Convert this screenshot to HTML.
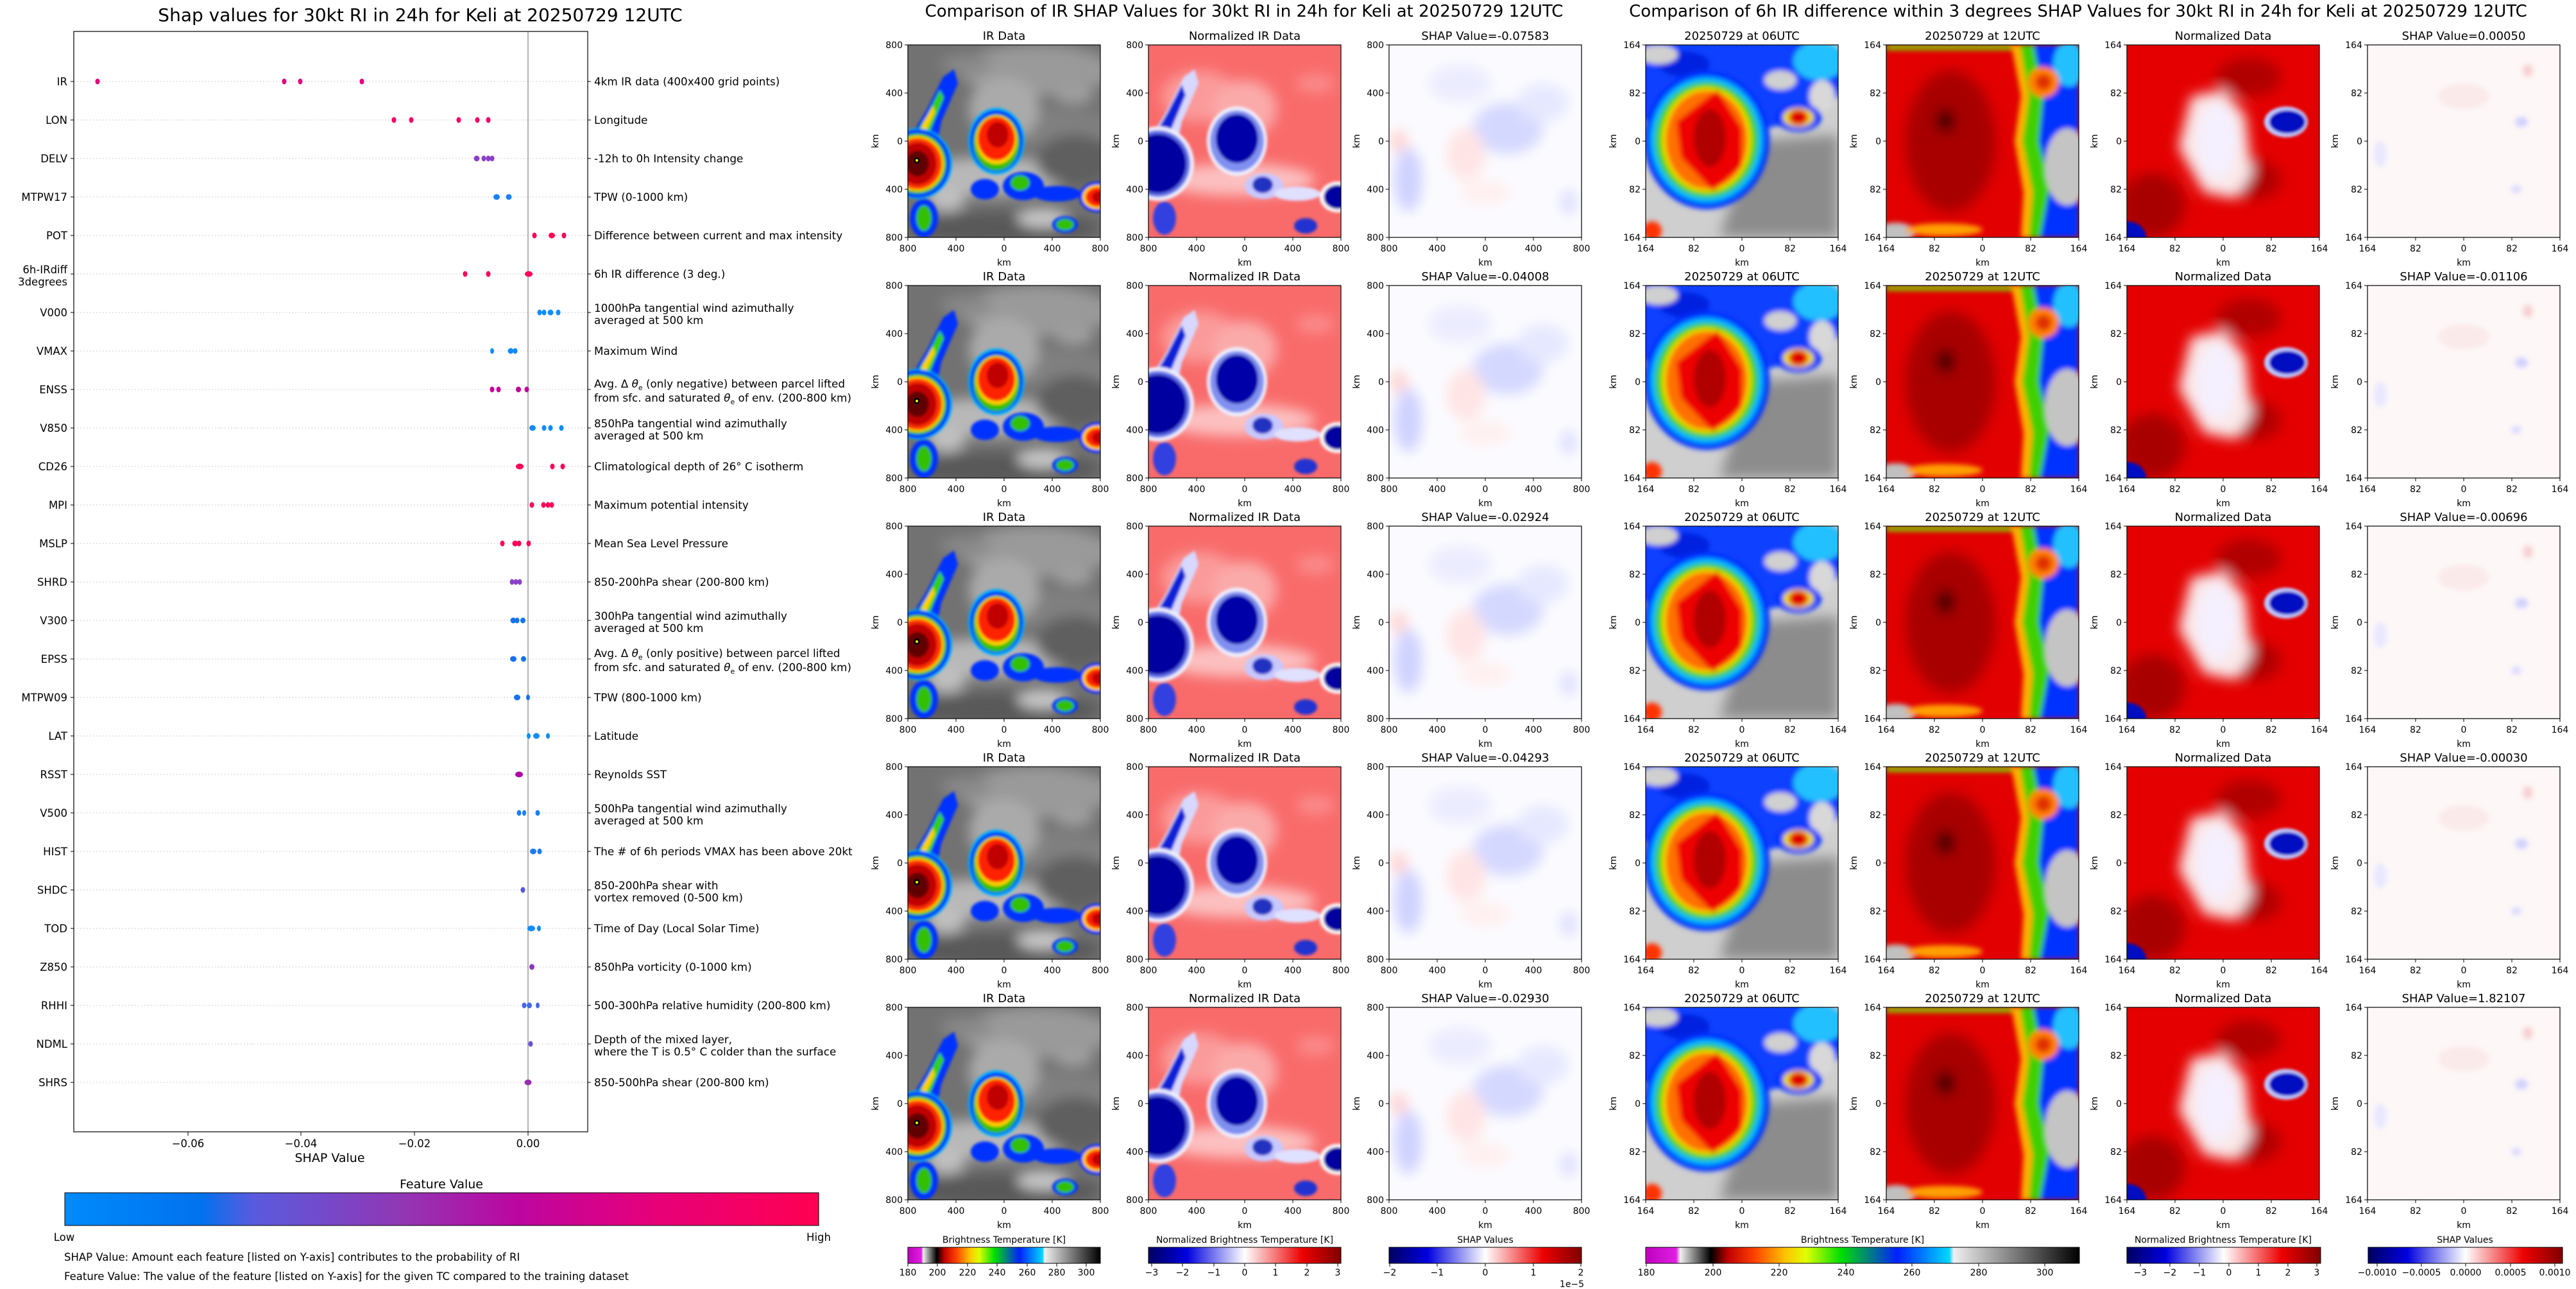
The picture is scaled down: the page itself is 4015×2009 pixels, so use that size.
<!DOCTYPE html>
<html><head><meta charset="utf-8"><style>
html,body{margin:0;padding:0;background:#fff;}
svg{display:block;font-family:"DejaVu Sans","Liberation Sans",sans-serif;}
</style></head><body>
<svg width="4015" height="2009" viewBox="0 0 4015 2009" xmlns="http://www.w3.org/2000/svg">
<defs>
<filter id="b2" x="-20%" y="-20%" width="140%" height="140%"><feGaussianBlur stdDeviation="2"/></filter>
<filter id="b4" x="-30%" y="-30%" width="160%" height="160%"><feGaussianBlur stdDeviation="4"/></filter>
<filter id="b10" x="-50%" y="-50%" width="200%" height="200%"><feGaussianBlur stdDeviation="10"/></filter>
<filter id="b18" x="-50%" y="-50%" width="200%" height="200%"><feGaussianBlur stdDeviation="18"/></filter>
<clipPath id="cp"><rect x="0" y="0" width="300" height="300"/></clipPath>
<linearGradient id="gFeat" x1="0" x2="1" y1="0" y2="0">
<stop offset="0" stop-color="#008bfb"/><stop offset="0.18" stop-color="#0072ee"/><stop offset="0.25" stop-color="#5a5ade"/><stop offset="0.45" stop-color="#9236b4"/><stop offset="0.6" stop-color="#bc06a0"/><stop offset="0.78" stop-color="#e6007a"/><stop offset="1" stop-color="#ff0052"/></linearGradient>
<linearGradient id="gIR1" x1="0" x2="1" y1="0" y2="0">
<stop offset="0" stop-color="#c000c0"/><stop offset="0.07" stop-color="#e020e0"/><stop offset="0.08" stop-color="#f0f0f0"/><stop offset="0.15" stop-color="#000"/><stop offset="0.19" stop-color="#c00000"/><stop offset="0.25" stop-color="#ff4000"/><stop offset="0.32" stop-color="#ffc000"/><stop offset="0.37" stop-color="#e0ff00"/><stop offset="0.45" stop-color="#00e000"/><stop offset="0.58" stop-color="#0020ff"/><stop offset="0.7" stop-color="#00d8ff"/><stop offset="0.71" stop-color="#f0f0f0"/><stop offset="1" stop-color="#000"/></linearGradient>
<linearGradient id="gRWB" x1="0" x2="1" y1="0" y2="0">
<stop offset="0" stop-color="#000060"/><stop offset="0.2" stop-color="#0000e0"/><stop offset="0.5" stop-color="#ffffff"/><stop offset="0.8" stop-color="#ee0000"/><stop offset="1" stop-color="#800000"/></linearGradient>

<g id="irImg"><g clip-path="url(#cp)">
<rect width="300" height="300" fill="#727272"/>
<g filter="url(#b10)">
<ellipse cx="200" cy="40" rx="120" ry="40" fill="#9a9a9a"/><ellipse cx="230" cy="130" rx="90" ry="30" fill="#808080"/>
<ellipse cx="130" cy="205" rx="130" ry="30" fill="#b8b8b8"/><ellipse cx="150" cy="285" rx="150" ry="25" fill="#585858"/>
<ellipse cx="260" cy="180" rx="60" ry="40" fill="#5e5e5e"/><ellipse cx="150" cy="100" rx="55" ry="50" fill="#aaaaaa"/>
<ellipse cx="90" cy="30" rx="40" ry="15" fill="#888"/><ellipse cx="260" cy="80" rx="30" ry="12" fill="#a0a0a0"/>
<ellipse cx="60" cy="240" rx="30" ry="20" fill="#c0c0c0"/><ellipse cx="210" cy="270" rx="40" ry="15" fill="#c8c8c8"/>
</g>
<g filter="url(#b2)">
<polygon points="0,215 0,150 30,100 55,50 72,38 78,60 52,120 42,170 32,225" fill="#0030ff"/>
<polygon points="0,200 5,150 30,110 50,70 56,82 36,130 26,180" fill="#30d000"/>
<polygon points="5,170 25,120 40,95 42,105 25,140" fill="#ffd000"/>
<ellipse cx="180" cy="220" rx="32" ry="22" fill="#0030ff"/><ellipse cx="175" cy="215" rx="15" ry="12" fill="#30c000"/>
<ellipse cx="232" cy="232" rx="38" ry="12" fill="#0030ff"/><ellipse cx="120" cy="225" rx="22" ry="16" fill="#0030ff"/>
<ellipse cx="25" cy="270" rx="22" ry="30" fill="#0030ff"/><ellipse cx="25" cy="270" rx="12" ry="20" fill="#30c000"/>
<ellipse cx="15" cy="185" rx="54" ry="55" fill="#00b0ff"/><ellipse cx="15" cy="185" rx="51" ry="53" fill="#0030ff"/>
<ellipse cx="15" cy="185" rx="45" ry="47" fill="#30c000"/><ellipse cx="15" cy="185" rx="41" ry="43" fill="#ffd000"/>
<ellipse cx="15" cy="185" rx="38" ry="40" fill="#ff3000"/><ellipse cx="15" cy="185" rx="30" ry="33" fill="#c00000"/>
<ellipse cx="15" cy="185" rx="18" ry="20" fill="#600000"/>
<ellipse cx="138" cy="150" rx="44" ry="52" fill="#00b0ff"/><ellipse cx="138" cy="150" rx="41" ry="48" fill="#0030ff"/>
<ellipse cx="138" cy="152" rx="36" ry="44" fill="#30c000"/><ellipse cx="138" cy="148" rx="32" ry="38" fill="#ffd000"/>
<ellipse cx="138" cy="146" rx="29" ry="34" fill="#ff2000"/><ellipse cx="140" cy="140" rx="17" ry="20" fill="#c00000"/>
<ellipse cx="295" cy="237" rx="28" ry="24" fill="#0030ff"/>
<ellipse cx="295" cy="237" rx="23" ry="19" fill="#ffd000"/><ellipse cx="296" cy="237" rx="19" ry="15" fill="#ff2000"/>
<ellipse cx="298" cy="237" rx="11" ry="9" fill="#c00000"/>
<ellipse cx="245" cy="280" rx="20" ry="13" fill="#0030ff"/><ellipse cx="245" cy="280" rx="14" ry="9" fill="#30c000"/>
</g>
<circle cx="14" cy="180" r="5" fill="#000"/><circle cx="14" cy="180" r="2" fill="#ff0"/>
</g></g>

<g id="normImg"><g clip-path="url(#cp)">
<rect width="300" height="300" fill="#f96b6b"/>
<g filter="url(#b10)"><ellipse cx="80" cy="80" rx="60" ry="40" fill="#fb9a9a"/><ellipse cx="140" cy="210" rx="120" ry="25" fill="#fcc0c0"/><ellipse cx="150" cy="100" rx="50" ry="45" fill="#fbaaaa"/><ellipse cx="260" cy="60" rx="30" ry="15" fill="#fb8a8a"/></g>
<g filter="url(#b2)">
<polygon points="0,215 0,150 30,100 55,50 72,38 78,60 52,120 42,170 32,225" fill="#d8d8ff"/>
<polygon points="0,205 4,150 30,105 52,62 58,78 36,130 26,185" fill="#1020d8"/>
<ellipse cx="180" cy="220" rx="30" ry="20" fill="#c8c8ff"/><ellipse cx="178" cy="218" rx="16" ry="13" fill="#2030c0"/>
<ellipse cx="232" cy="232" rx="36" ry="11" fill="#e0e0ff"/><ellipse cx="25" cy="270" rx="18" ry="26" fill="#3040e0"/>
<ellipse cx="15" cy="185" rx="56" ry="58" fill="#f0f0ff"/><ellipse cx="15" cy="185" rx="50" ry="52" fill="#6070e8"/>
<ellipse cx="15" cy="185" rx="44" ry="46" fill="#0000a0"/>
<ellipse cx="138" cy="150" rx="47" ry="54" fill="#f0f0ff"/><ellipse cx="138" cy="150" rx="42" ry="48" fill="#8090f0"/>
<ellipse cx="138" cy="146" rx="33" ry="38" fill="#0000a8"/>
<ellipse cx="295" cy="237" rx="28" ry="24" fill="#ffffff"/><ellipse cx="295" cy="237" rx="22" ry="19" fill="#0000a0"/>
<ellipse cx="245" cy="282" rx="18" ry="12" fill="#2030d0"/>
</g></g></g>

<g id="shapImg"><g clip-path="url(#cp)">
<rect width="300" height="300" fill="#fbfbff"/>
<g filter="url(#b10)">
<ellipse cx="185" cy="130" rx="55" ry="40" fill="#d4d8ff"/><ellipse cx="30" cy="210" rx="22" ry="50" fill="#cfd2ff"/>
<ellipse cx="110" cy="60" rx="50" ry="30" fill="#ececff"/><ellipse cx="240" cy="90" rx="40" ry="30" fill="#e6e8ff"/>
<ellipse cx="120" cy="170" rx="30" ry="40" fill="#ffe4e4"/><ellipse cx="15" cy="150" rx="14" ry="18" fill="#ffd4d4"/>
<ellipse cx="150" cy="230" rx="40" ry="20" fill="#fff0f0"/><ellipse cx="280" cy="245" rx="12" ry="20" fill="#dcdcff"/>
</g></g></g>

<g id="r06"><g clip-path="url(#cp)">
<rect width="300" height="300" fill="#cfcfcf"/>
<g filter="url(#b10)"><polygon points="165,150 300,140 300,300 115,300" fill="#8c8c8c"/></g>
<g filter="url(#b4)">
<ellipse cx="120" cy="55" rx="190" ry="80" fill="#1040ff"/><ellipse cx="270" cy="25" rx="40" ry="30" fill="#20c0ff"/>
<ellipse cx="60" cy="30" rx="40" ry="20" fill="#0020e0"/><ellipse cx="20" cy="15" rx="30" ry="15" fill="#d0d0d0"/>
<ellipse cx="210" cy="55" rx="25" ry="15" fill="#d0d0d0"/><ellipse cx="275" cy="80" rx="20" ry="25" fill="#d8d8d8"/>
<ellipse cx="95" cy="148" rx="98" ry="108" fill="#0030ff"/><ellipse cx="95" cy="148" rx="88" ry="98" fill="#00b8ff"/>
<ellipse cx="95" cy="148" rx="80" ry="90" fill="#40d000"/><ellipse cx="95" cy="148" rx="70" ry="82" fill="#f0e000"/>
<ellipse cx="95" cy="148" rx="64" ry="77" fill="#ff7000"/>
<polygon points="112,70 150,130 150,190 105,228 55,175 48,120" fill="#ee0000"/>
<ellipse cx="100" cy="145" rx="25" ry="45" fill="#b00000"/>
<ellipse cx="238" cy="113" rx="36" ry="22" fill="#0030ff"/><ellipse cx="238" cy="113" rx="24" ry="15" fill="#f0e000"/>
<ellipse cx="238" cy="113" rx="15" ry="12" fill="#e00000"/>
<ellipse cx="10" cy="290" rx="15" ry="15" fill="#ff3000"/>
</g></g></g>

<g id="r12"><g clip-path="url(#cp)">
<rect width="300" height="300" fill="#e20000"/>
<g filter="url(#b4)">
<rect x="0" y="0" width="200" height="8" fill="#80d000"/>
<polygon points="225,0 300,0 300,300 235,300 250,220 232,150 240,80" fill="#0030ff"/>
<polygon points="205,0 230,0 245,80 238,150 255,220 240,300 222,300 228,230 212,150 222,80" fill="#40d000"/>
<polygon points="195,0 208,0 222,80 212,150 228,230 222,300 210,300 214,230 200,150 210,80" fill="#ffb000"/>
<ellipse cx="282" cy="190" rx="35" ry="60" fill="#c4c4c4"/><ellipse cx="285" cy="30" rx="25" ry="35" fill="#20c0ff"/>
<ellipse cx="245" cy="58" rx="24" ry="24" fill="#ff8000"/><ellipse cx="245" cy="58" rx="12" ry="12" fill="#e03000"/>
<ellipse cx="15" cy="292" rx="30" ry="15" fill="#c0c0c0"/><ellipse cx="90" cy="288" rx="60" ry="10" fill="#ffa000"/>
</g>
<g filter="url(#b10)"><ellipse cx="100" cy="150" rx="70" ry="110" fill="#a80000"/><ellipse cx="92" cy="118" rx="14" ry="18" fill="#200000"/></g>
</g></g>

<g id="rNorm"><g clip-path="url(#cp)">
<rect width="300" height="300" fill="#e40000"/>
<g filter="url(#b10)">
<ellipse cx="40" cy="250" rx="50" ry="50" fill="#a80000"/><ellipse cx="200" cy="210" rx="40" ry="30" fill="#b00000"/>
<ellipse cx="190" cy="50" rx="50" ry="30" fill="#b00000"/>
<polygon points="100,80 150,70 185,110 195,200 170,240 120,230 80,160" fill="#fbe8e8"/>
<ellipse cx="140" cy="150" rx="30" ry="60" fill="#f4f0ff"/>
</g>
<g filter="url(#b2)">
<ellipse cx="248" cy="120" rx="34" ry="24" fill="#c0c8ff"/><ellipse cx="250" cy="120" rx="28" ry="18" fill="#0010c0"/>
<ellipse cx="0" cy="300" rx="30" ry="25" fill="#0010c0"/>
</g></g></g>

<g id="rShap"><g clip-path="url(#cp)">
<rect width="300" height="300" fill="#fdf7f7"/>
<g filter="url(#b4)">
<ellipse cx="240" cy="120" rx="10" ry="8" fill="#d0d0ff"/><ellipse cx="232" cy="225" rx="8" ry="6" fill="#dadaff"/>
<ellipse cx="250" cy="40" rx="8" ry="10" fill="#f8d0d0"/><ellipse cx="20" cy="170" rx="10" ry="20" fill="#e8e8ff"/>
<ellipse cx="150" cy="80" rx="40" ry="20" fill="#fbeaea"/>
</g></g></g>

<g id="axM" font-size="14" fill="#000">
<rect x="0" y="0" width="300" height="300" fill="none" stroke="#000" stroke-width="1.2"/>
<path d="M-5 0H0M-5 75H0M-5 150H0M-5 225H0M-5 300H0M0 300V305M75 300V305M150 300V305M225 300V305M300 300V305" stroke="#000"/>
<g text-anchor="end"><text x="-8" y="5">800</text><text x="-8" y="80">400</text><text x="-8" y="155">0</text><text x="-8" y="230">400</text><text x="-8" y="305">800</text></g>
<g text-anchor="middle"><text x="0" y="322">800</text><text x="75" y="322">400</text><text x="150" y="322">0</text><text x="225" y="322">400</text><text x="300" y="322">800</text>
<text x="150" y="344">km</text><text transform="translate(-46,150) rotate(-90)">km</text></g>
</g>
<g id="axR" font-size="14" fill="#000">
<rect x="0" y="0" width="300" height="300" fill="none" stroke="#000" stroke-width="1.2"/>
<path d="M-5 0H0M-5 75H0M-5 150H0M-5 225H0M-5 300H0M0 300V305M75 300V305M150 300V305M225 300V305M300 300V305" stroke="#000"/>
<g text-anchor="end"><text x="-8" y="5">164</text><text x="-8" y="80">82</text><text x="-8" y="155">0</text><text x="-8" y="230">82</text><text x="-8" y="305">164</text></g>
<g text-anchor="middle"><text x="0" y="322">164</text><text x="75" y="322">82</text><text x="150" y="322">0</text><text x="225" y="322">82</text><text x="300" y="322">164</text>
<text x="150" y="344">km</text><text transform="translate(-46,150) rotate(-90)">km</text></g>
</g>
</defs>

<!-- LEFT PANEL -->
<text x="655" y="33" font-size="28" text-anchor="middle">Shap values for 30kt RI in 24h for Keli at 20250729 12UTC</text>
<g stroke="#cfcfcf" stroke-dasharray="2,3" stroke-width="1">
<path d="M115 127H916M115 187H916M115 247H916M115 307H916M115 367H916M115 427H916M115 487H916M115 547H916M115 607H916M115 667H916M115 727H916M115 787H916M115 847H916M115 907H916M115 967H916M115 1027H916M115 1087H916M115 1147H916M115 1207H916M115 1267H916M115 1327H916M115 1387H916M115 1447H916M115 1507H916M115 1567H916M115 1627H916M115 1687H916"/>
</g>
<line x1="823" y1="49" x2="823" y2="1764" stroke="#999" stroke-width="1.5"/>
<rect x="115" y="49" width="801" height="1715" fill="none" stroke="#000" stroke-width="1.2"/>
<g stroke="#000"><path d="M110 127H115M110 187H115M110 247H115M110 307H115M110 367H115M110 427H115M110 487H115M110 547H115M110 607H115M110 667H115M110 727H115M110 787H115M110 847H115M110 907H115M110 967H115M110 1027H115M110 1087H115M110 1147H115M110 1207H115M110 1267H115M110 1327H115M110 1387H115M110 1447H115M110 1507H115M110 1567H115M110 1627H115M110 1687H115"/>
<path d="M916 127H921M916 187H921M916 247H921M916 307H921M916 367H921M916 427H921M916 487H921M916 547H921M916 607H921M916 667H921M916 727H921M916 787H921M916 847H921M916 907H921M916 967H921M916 1027H921M916 1087H921M916 1147H921M916 1207H921M916 1267H921M916 1327H921M916 1387H921M916 1447H921M916 1507H921M916 1567H921M916 1627H921M916 1687H921"/>
<path d="M293 1764V1770M469 1764V1770M646 1764V1770M823 1764V1770"/></g>
<g font-size="16.5" text-anchor="end">
<text x="105" y="133">IR</text><text x="105" y="193">LON</text><text x="105" y="253">DELV</text><text x="105" y="313">MTPW17</text><text x="105" y="373">POT</text>
<text x="105" y="426">6h-IRdiff</text><text x="105" y="445">3degrees</text>
<text x="105" y="493">V000</text><text x="105" y="553">VMAX</text><text x="105" y="613">ENSS</text><text x="105" y="673">V850</text><text x="105" y="733">CD26</text><text x="105" y="793">MPI</text><text x="105" y="853">MSLP</text><text x="105" y="913">SHRD</text><text x="105" y="973">V300</text><text x="105" y="1033">EPSS</text><text x="105" y="1093">MTPW09</text><text x="105" y="1153">LAT</text><text x="105" y="1213">RSST</text><text x="105" y="1273">V500</text><text x="105" y="1333">HIST</text><text x="105" y="1393">SHDC</text><text x="105" y="1453">TOD</text><text x="105" y="1513">Z850</text><text x="105" y="1573">RHHI</text><text x="105" y="1633">NDML</text><text x="105" y="1693">SHRS</text>
</g>
<g font-size="16.8">
<text x="926" y="133">4km IR data (400x400 grid points)</text>
<text x="926" y="193">Longitude</text>
<text x="926" y="253">-12h to 0h Intensity change</text>
<text x="926" y="313">TPW (0-1000 km)</text>
<text x="926" y="373">Difference between current and max intensity</text>
<text x="926" y="433">6h IR difference (3 deg.)</text>
<text x="926" y="486">1000hPa tangential wind azimuthally</text><text x="926" y="505">averaged at 500 km</text>
<text x="926" y="553">Maximum Wind</text>
<text x="926" y="604">Avg. Δ <tspan font-style="italic">θ</tspan><tspan font-size="11" dy="4">e</tspan><tspan dy="-4"> (only negative) between parcel lifted</tspan></text>
<text x="926" y="626">from sfc. and saturated <tspan font-style="italic">θ</tspan><tspan font-size="11" dy="4">e</tspan><tspan dy="-4"> of env. (200-800 km)</tspan></text>
<text x="926" y="666">850hPa tangential wind azimuthally</text><text x="926" y="685">averaged at 500 km</text>
<text x="926" y="733">Climatological depth of 26° C isotherm</text>
<text x="926" y="793">Maximum potential intensity</text>
<text x="926" y="853">Mean Sea Level Pressure</text>
<text x="926" y="913">850-200hPa shear (200-800 km)</text>
<text x="926" y="966">300hPa tangential wind azimuthally</text><text x="926" y="985">averaged at 500 km</text>
<text x="926" y="1024">Avg. Δ <tspan font-style="italic">θ</tspan><tspan font-size="11" dy="4">e</tspan><tspan dy="-4"> (only positive) between parcel lifted</tspan></text>
<text x="926" y="1046">from sfc. and saturated <tspan font-style="italic">θ</tspan><tspan font-size="11" dy="4">e</tspan><tspan dy="-4"> of env. (200-800 km)</tspan></text>
<text x="926" y="1093">TPW (800-1000 km)</text>
<text x="926" y="1153">Latitude</text>
<text x="926" y="1213">Reynolds SST</text>
<text x="926" y="1266">500hPa tangential wind azimuthally</text><text x="926" y="1285">averaged at 500 km</text>
<text x="926" y="1333">The # of 6h periods VMAX has been above 20kt</text>
<text x="926" y="1386">850-200hPa shear with</text><text x="926" y="1405">vortex removed (0-500 km)</text>
<text x="926" y="1453">Time of Day (Local Solar Time)</text>
<text x="926" y="1513">850hPa vorticity (0-1000 km)</text>
<text x="926" y="1573">500-300hPa relative humidity (200-800 km)</text>
<text x="926" y="1626">Depth of the mixed layer,</text><text x="926" y="1645">where the T is 0.5° C colder than the surface</text>
<text x="926" y="1693">850-500hPa shear (200-800 km)</text>
</g>
<!-- dots -->
<g>
<g fill="#e2007e"><ellipse cx="152" cy="127" rx="3.5" ry="4.5"/><ellipse cx="443" cy="127" rx="3.5" ry="4.5"/><ellipse cx="468" cy="127" rx="3.5" ry="4.5"/><ellipse cx="564" cy="127" rx="3.5" ry="4.5"/></g>
<g fill="#f20066"><ellipse cx="614" cy="187" rx="3.5" ry="4.5"/><ellipse cx="641" cy="187" rx="3.5" ry="4.5"/><ellipse cx="715" cy="187" rx="3.5" ry="4.5"/><ellipse cx="744" cy="187" rx="3.5" ry="4.5"/><ellipse cx="761" cy="187" rx="3.5" ry="4.5"/></g>
<g fill="#8a40c8"><ellipse cx="743" cy="247" rx="4.5" ry="4.5"/><ellipse cx="754" cy="247" rx="3.5" ry="4.5"/><ellipse cx="761" cy="247" rx="3.5" ry="4.5"/><ellipse cx="767" cy="247" rx="3.5" ry="4.5"/></g>
<g fill="#1a80ff"><ellipse cx="774" cy="307" rx="5" ry="4.5"/><ellipse cx="793" cy="307" rx="4.5" ry="4.5"/></g>
<g fill="#ff0058"><ellipse cx="833" cy="367" rx="3.5" ry="4.5"/><ellipse cx="860" cy="367" rx="5" ry="4.5"/><ellipse cx="879" cy="367" rx="3.5" ry="4.5"/>
<ellipse cx="725" cy="427" rx="3.5" ry="4.5"/><ellipse cx="761" cy="427" rx="3.5" ry="4.5"/><ellipse cx="824" cy="427" rx="6" ry="4.5"/></g>
<g fill="#0e8cff"><ellipse cx="841" cy="487" rx="3.5" ry="4.5"/><ellipse cx="848" cy="487" rx="3.5" ry="4.5"/><ellipse cx="858" cy="487" rx="4.5" ry="4.5"/><ellipse cx="870" cy="487" rx="3.5" ry="4.5"/>
<ellipse cx="767" cy="547" rx="3" ry="4.5"/><ellipse cx="796" cy="547" rx="4.5" ry="4.5"/><ellipse cx="803" cy="547" rx="3.5" ry="4.5"/></g>
<g fill="#c2009a"><ellipse cx="767" cy="607" rx="3.5" ry="4.5"/><ellipse cx="777" cy="607" rx="3.5" ry="4.5"/><ellipse cx="808" cy="607" rx="4" ry="4.5"/><ellipse cx="821" cy="607" rx="3.5" ry="4.5"/></g>
<g fill="#0e8cff"><ellipse cx="830" cy="667" rx="5" ry="4.5"/><ellipse cx="848" cy="667" rx="3.5" ry="4.5"/><ellipse cx="858" cy="667" rx="3.5" ry="4.5"/><ellipse cx="875" cy="667" rx="3.5" ry="4.5"/></g>
<g fill="#ff0058"><ellipse cx="810" cy="727" rx="6" ry="4.5"/><ellipse cx="861" cy="727" rx="3.5" ry="4.5"/><ellipse cx="877" cy="727" rx="3.5" ry="4.5"/>
<ellipse cx="829" cy="787" rx="3.5" ry="4.5"/><ellipse cx="847" cy="787" rx="3.5" ry="4.5"/><ellipse cx="854" cy="787" rx="3.5" ry="4.5"/><ellipse cx="860" cy="787" rx="3.5" ry="4.5"/>
<ellipse cx="783" cy="847" rx="3.5" ry="4.5"/><ellipse cx="803" cy="847" rx="4.5" ry="4.5"/><ellipse cx="809" cy="847" rx="3.5" ry="4.5"/><ellipse cx="824" cy="847" rx="3.5" ry="4.5"/></g>
<g fill="#8a40c8"><ellipse cx="798" cy="907" rx="3.5" ry="4.5"/><ellipse cx="804" cy="907" rx="3.5" ry="4.5"/><ellipse cx="810" cy="907" rx="3.5" ry="4.5"/></g>
<g fill="#1472f0"><ellipse cx="800" cy="967" rx="4.5" ry="4.5"/><ellipse cx="806" cy="967" rx="3.5" ry="4.5"/><ellipse cx="815" cy="967" rx="4" ry="4.5"/>
<ellipse cx="800" cy="1027" rx="5" ry="4.5"/><ellipse cx="816" cy="1027" rx="4" ry="4.5"/>
<ellipse cx="806" cy="1087" rx="5" ry="4.5"/><ellipse cx="823" cy="1087" rx="3" ry="4.5"/></g>
<g fill="#0e8cff"><ellipse cx="824" cy="1147" rx="3" ry="4.5"/><ellipse cx="836" cy="1147" rx="5" ry="4.5"/><ellipse cx="854" cy="1147" rx="3" ry="4.5"/></g>
<ellipse cx="809" cy="1207" rx="6" ry="4.5" fill="#b000a4"/>
<g fill="#1a7cf8"><ellipse cx="809" cy="1267" rx="3.5" ry="4.5"/><ellipse cx="817" cy="1267" rx="3" ry="4.5"/><ellipse cx="838" cy="1267" rx="3.5" ry="4.5"/>
<ellipse cx="831" cy="1327" rx="5" ry="4.5"/><ellipse cx="841" cy="1327" rx="3.5" ry="4.5"/></g>
<ellipse cx="815" cy="1387" rx="3.5" ry="4.5" fill="#5058e0"/>
<g fill="#0e8cff"><ellipse cx="828" cy="1447" rx="6" ry="4.5"/><ellipse cx="840" cy="1447" rx="3" ry="4.5"/></g>
<ellipse cx="829" cy="1507" rx="4" ry="4.5" fill="#9034b4"/>
<g fill="#4466ea"><ellipse cx="817" cy="1567" rx="3.5" ry="4.5"/><ellipse cx="825" cy="1567" rx="4" ry="4.5"/><ellipse cx="838" cy="1567" rx="3" ry="4.5"/></g>
<ellipse cx="827" cy="1627" rx="3.5" ry="4.5" fill="#6a50d4"/>
<ellipse cx="823" cy="1687" rx="5.5" ry="4.5" fill="#9a2cb0"/>
</g>
<g font-size="16.5" text-anchor="middle">
<text x="293" y="1788">−0.06</text><text x="469" y="1788">−0.04</text><text x="646" y="1788">−0.02</text><text x="823" y="1788">0.00</text>
<text x="514" y="1811" font-size="19">SHAP Value</text>
<text x="688" y="1852" font-size="19">Feature Value</text>
</g>
<rect x="101" y="1859" width="1175" height="51" fill="url(#gFeat)" stroke="#000" stroke-width="1"/>
<g font-size="16.5"><text x="100" y="1934" text-anchor="middle">Low</text><text x="1276" y="1934" text-anchor="middle">High</text>
<text x="100" y="1965">SHAP Value: Amount each feature [listed on Y-axis] contributes to the probability of RI</text>
<text x="100" y="1995">Feature Value: The value of the feature [listed on Y-axis] for the given TC compared to the training dataset</text></g>

<!-- MIDDLE GROUP -->
<text x="1939" y="26" font-size="26" text-anchor="middle">Comparison of IR SHAP Values for 30kt RI in 24h for Keli at 20250729 12UTC</text>
<text x="3239" y="26" font-size="26" text-anchor="middle">Comparison of 6h IR difference within 3 degrees SHAP Values for 30kt RI in 24h for Keli at 20250729 12UTC</text>

<g font-size="18" text-anchor="middle">
<use href="#irImg" x="1415" y="70"/><use href="#axM" x="1415" y="70"/><text x="1565" y="62">IR Data</text>
<use href="#normImg" x="1790" y="70"/><use href="#axM" x="1790" y="70"/><text x="1940" y="62">Normalized IR Data</text>
<use href="#shapImg" x="2165" y="70"/><use href="#axM" x="2165" y="70"/><text x="2315" y="62">SHAP Value=-0.07583</text>
<use href="#r06" x="2565" y="70"/><use href="#axR" x="2565" y="70"/><text x="2715" y="62">20250729 at 06UTC</text>
<use href="#r12" x="2940" y="70"/><use href="#axR" x="2940" y="70"/><text x="3090" y="62">20250729 at 12UTC</text>
<use href="#rNorm" x="3315" y="70"/><use href="#axR" x="3315" y="70"/><text x="3465" y="62">Normalized Data</text>
<use href="#rShap" x="3690" y="70"/><use href="#axR" x="3690" y="70"/><text x="3840" y="62">SHAP Value=0.00050</text>

<use href="#irImg" x="1415" y="445"/><use href="#axM" x="1415" y="445"/><text x="1565" y="437">IR Data</text>
<use href="#normImg" x="1790" y="445"/><use href="#axM" x="1790" y="445"/><text x="1940" y="437">Normalized IR Data</text>
<use href="#shapImg" x="2165" y="445"/><use href="#axM" x="2165" y="445"/><text x="2315" y="437">SHAP Value=-0.04008</text>
<use href="#r06" x="2565" y="445"/><use href="#axR" x="2565" y="445"/><text x="2715" y="437">20250729 at 06UTC</text>
<use href="#r12" x="2940" y="445"/><use href="#axR" x="2940" y="445"/><text x="3090" y="437">20250729 at 12UTC</text>
<use href="#rNorm" x="3315" y="445"/><use href="#axR" x="3315" y="445"/><text x="3465" y="437">Normalized Data</text>
<use href="#rShap" x="3690" y="445"/><use href="#axR" x="3690" y="445"/><text x="3840" y="437">SHAP Value=-0.01106</text>

<use href="#irImg" x="1415" y="820"/><use href="#axM" x="1415" y="820"/><text x="1565" y="812">IR Data</text>
<use href="#normImg" x="1790" y="820"/><use href="#axM" x="1790" y="820"/><text x="1940" y="812">Normalized IR Data</text>
<use href="#shapImg" x="2165" y="820"/><use href="#axM" x="2165" y="820"/><text x="2315" y="812">SHAP Value=-0.02924</text>
<use href="#r06" x="2565" y="820"/><use href="#axR" x="2565" y="820"/><text x="2715" y="812">20250729 at 06UTC</text>
<use href="#r12" x="2940" y="820"/><use href="#axR" x="2940" y="820"/><text x="3090" y="812">20250729 at 12UTC</text>
<use href="#rNorm" x="3315" y="820"/><use href="#axR" x="3315" y="820"/><text x="3465" y="812">Normalized Data</text>
<use href="#rShap" x="3690" y="820"/><use href="#axR" x="3690" y="820"/><text x="3840" y="812">SHAP Value=-0.00696</text>

<use href="#irImg" x="1415" y="1195"/><use href="#axM" x="1415" y="1195"/><text x="1565" y="1187">IR Data</text>
<use href="#normImg" x="1790" y="1195"/><use href="#axM" x="1790" y="1195"/><text x="1940" y="1187">Normalized IR Data</text>
<use href="#shapImg" x="2165" y="1195"/><use href="#axM" x="2165" y="1195"/><text x="2315" y="1187">SHAP Value=-0.04293</text>
<use href="#r06" x="2565" y="1195"/><use href="#axR" x="2565" y="1195"/><text x="2715" y="1187">20250729 at 06UTC</text>
<use href="#r12" x="2940" y="1195"/><use href="#axR" x="2940" y="1195"/><text x="3090" y="1187">20250729 at 12UTC</text>
<use href="#rNorm" x="3315" y="1195"/><use href="#axR" x="3315" y="1195"/><text x="3465" y="1187">Normalized Data</text>
<use href="#rShap" x="3690" y="1195"/><use href="#axR" x="3690" y="1195"/><text x="3840" y="1187">SHAP Value=-0.00030</text>

<use href="#irImg" x="1415" y="1570"/><use href="#axM" x="1415" y="1570"/><text x="1565" y="1562">IR Data</text>
<use href="#normImg" x="1790" y="1570"/><use href="#axM" x="1790" y="1570"/><text x="1940" y="1562">Normalized IR Data</text>
<use href="#shapImg" x="2165" y="1570"/><use href="#axM" x="2165" y="1570"/><text x="2315" y="1562">SHAP Value=-0.02930</text>
<use href="#r06" x="2565" y="1570"/><use href="#axR" x="2565" y="1570"/><text x="2715" y="1562">20250729 at 06UTC</text>
<use href="#r12" x="2940" y="1570"/><use href="#axR" x="2940" y="1570"/><text x="3090" y="1562">20250729 at 12UTC</text>
<use href="#rNorm" x="3315" y="1570"/><use href="#axR" x="3315" y="1570"/><text x="3465" y="1562">Normalized Data</text>
<use href="#rShap" x="3690" y="1570"/><use href="#axR" x="3690" y="1570"/><text x="3840" y="1562">SHAP Value=1.82107</text>
</g>

<!-- COLORBARS -->
<g font-size="14" text-anchor="middle">
<text x="1565" y="1937">Brightness Temperature [K]</text>
<rect x="1415" y="1944" width="300" height="25" fill="url(#gIR1)" stroke="#000"/>
<path d="M1415 1969v5M1461 1969v5M1508 1969v5M1554 1969v5M1601 1969v5M1647 1969v5M1693 1969v5" stroke="#000"/>
<text x="1415" y="1988">180</text><text x="1461" y="1988">200</text><text x="1508" y="1988">220</text><text x="1554" y="1988">240</text><text x="1601" y="1988">260</text><text x="1647" y="1988">280</text><text x="1693" y="1988">300</text>

<text x="1940" y="1937">Normalized Brightness Temperature [K]</text>
<rect x="1790" y="1944" width="300" height="25" fill="url(#gRWB)" stroke="#000"/>
<path d="M1795 1969v5M1843 1969v5M1892 1969v5M1940 1969v5M1988 1969v5M2037 1969v5M2085 1969v5" stroke="#000"/>
<text x="1795" y="1988">−3</text><text x="1843" y="1988">−2</text><text x="1892" y="1988">−1</text><text x="1940" y="1988">0</text><text x="1988" y="1988">1</text><text x="2037" y="1988">2</text><text x="2085" y="1988">3</text>

<text x="2315" y="1937">SHAP Values</text>
<rect x="2165" y="1944" width="300" height="25" fill="url(#gRWB)" stroke="#000"/>
<path d="M2166 1969v5M2240 1969v5M2315 1969v5M2390 1969v5M2464 1969v5" stroke="#000"/>
<text x="2166" y="1988">−2</text><text x="2240" y="1988">−1</text><text x="2315" y="1988">0</text><text x="2390" y="1988">1</text><text x="2464" y="1988">2</text>
<text x="2450" y="2006">1e−5</text>

<text x="2903" y="1937">Brightness Temperature [K]</text>
<rect x="2565" y="1944" width="676" height="25" fill="url(#gIR1)" stroke="#000"/>
<path d="M2566 1969v5M2670 1969v5M2773 1969v5M2877 1969v5M2980 1969v5M3084 1969v5M3187 1969v5" stroke="#000"/>
<text x="2566" y="1988">180</text><text x="2670" y="1988">200</text><text x="2773" y="1988">220</text><text x="2877" y="1988">240</text><text x="2980" y="1988">260</text><text x="3084" y="1988">280</text><text x="3187" y="1988">300</text>

<text x="3465" y="1937">Normalized Brightness Temperature [K]</text>
<rect x="3315" y="1944" width="302" height="25" fill="url(#gRWB)" stroke="#000"/>
<path d="M3336 1969v5M3382 1969v5M3428 1969v5M3474 1969v5M3520 1969v5M3566 1969v5M3611 1969v5" stroke="#000"/>
<text x="3336" y="1988">−3</text><text x="3382" y="1988">−2</text><text x="3428" y="1988">−1</text><text x="3474" y="1988">0</text><text x="3520" y="1988">1</text><text x="3566" y="1988">2</text><text x="3611" y="1988">3</text>

<text x="3842" y="1937">SHAP Values</text>
<rect x="3691" y="1944" width="303" height="25" fill="url(#gRWB)" stroke="#000"/>
<path d="M3705 1969v5M3774 1969v5M3843 1969v5M3913 1969v5M3982 1969v5" stroke="#000"/>
<text x="3705" y="1988">−0.0010</text><text x="3774" y="1988">−0.0005</text><text x="3843" y="1988">0.0000</text><text x="3913" y="1988">0.0005</text><text x="3982" y="1988">0.0010</text>
</g>
</svg>
</body></html>
